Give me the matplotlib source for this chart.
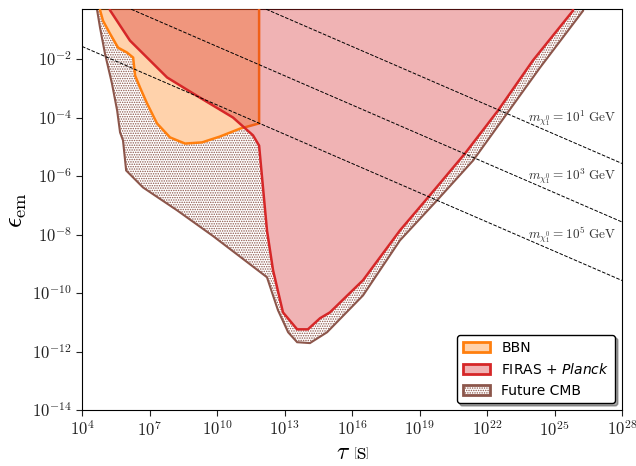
import numpy as np
import matplotlib
matplotlib.use('Agg')
import matplotlib.pyplot as plt
from matplotlib.ticker import FixedLocator, NullLocator, FuncFormatter

plt.rcParams['mathtext.fontset'] = 'cm'
plt.rcParams['hatch.linewidth'] = 0.7

# boundaries as (log10 tau [s], log10 eps_em)
bbn_logtau = [4.80, 4.93, 5.24, 5.60, 6.00, 6.27, 6.31, 6.36, 6.58, 6.89, 7.33,
              7.91, 8.58, 9.33, 10.13, 11.02, 11.87]
bbn_logeps = [-0.33, -0.69, -1.13, -1.61, -1.78, -1.95, -2.23, -2.57, -2.98, -3.52, -4.20,
              -4.68, -4.89, -4.85, -4.65, -4.38, -4.20]

firas_logtau = [5.24, 6.13, 7.78, 9.24, 10.71, 11.60, 11.87, 12.22, 12.49, 12.93, 13.56,
                14.04, 14.58, 15.02, 16.49, 18.13, 19.38, 21.02, 22.49, 24.04, 25.82]
firas_logeps = [-0.33, -1.37, -2.63, -3.32, -4.00, -4.61, -4.96, -7.86, -9.22, -10.66, -11.24,
                -11.24, -10.86, -10.66, -9.56, -7.86, -6.73, -5.23, -3.76, -2.05, -0.35]

cmb_logtau = [4.67, 4.80, 5.02, 5.33, 5.56, 5.69, 5.82, 5.96, 6.71, 8.22, 9.82, 12.22,
              12.44, 12.71, 13.16, 13.56, 14.13, 14.89, 16.49, 18.13, 19.78, 21.38,
              22.89, 24.36, 26.27]
cmb_logeps = [-0.33, -0.93, -1.82, -2.84, -3.76, -4.51, -4.78, -5.81, -6.39, -7.17, -8.05, -9.46,
              -9.97, -10.59, -11.34, -11.68, -11.71, -11.34, -10.08, -8.20, -6.83, -5.47,
              -3.86, -2.29, -0.35]

# neutralino mass lines: log10 eps at tau = 1e28 s, slope -1/3 in log-log
mass_exp = [1, 3, 5]
line_logeps_1e28 = [-5.57, -7.57, -9.57]
label_logeps = [-4.0, -6.0, -8.0]


def closed(logtau, logeps, top=1.0):
    x = [logtau[0]] + list(logtau) + [logtau[-1]]
    y = [top] + list(logeps) + [top]
    return 10.0 ** np.array(x), 10.0 ** np.array(y)


fig = plt.figure(figsize=(6.36, 4.66), dpi=100)
ax = fig.add_axes([0.129, 0.120, 0.849, 0.860])

cx, cy = closed(cmb_logtau, cmb_logeps)
ax.fill(cx, cy, facecolor='white', edgecolor='tab:brown', hatch='.......',
        linewidth=1.5, zorder=1, label='Future CMB')

bx, by = closed(bbn_logtau, bbn_logeps)
fx, fy = closed(firas_logtau, firas_logeps)
ax.fill(bx, by, facecolor='white', edgecolor='none', zorder=2)
ax.fill(fx, fy, facecolor='white', edgecolor='none', zorder=2)

ax.fill(bx, by, facecolor=(1.0, 0.498, 0.055, 0.35), edgecolor='tab:orange',
        linewidth=1.8, zorder=3, label='BBN')
ax.fill(fx, fy, facecolor=(0.839, 0.153, 0.157, 0.35), edgecolor='tab:red',
        linewidth=1.8, zorder=4, label='FIRAS + $\\it{Planck}$')

t = np.array([4.0, 28.0])
for m, c, ly in zip(mass_exp, line_logeps_1e28, label_logeps):
    ax.plot(10.0 ** t, 10.0 ** (c - (t - 28.0) / 3.0), 'k--', lw=0.7, zorder=5)
    ax.text(10 ** 23.8, 10 ** ly, r'$m_{\chi_1^0} = 10^{%d}\ \mathrm{GeV}$' % m,
            fontsize=9.5, color='#333333', va='center', ha='left', zorder=6)

ax.set_xscale('log')
ax.set_yscale('log')
ax.set_xlim(1e4, 1e28)
ax.set_ylim(1e-14, 0.5)
ax.xaxis.set_major_locator(FixedLocator([10.0 ** k for k in range(4, 29, 3)]))
ax.yaxis.set_major_locator(FixedLocator([10.0 ** k for k in range(-14, -1, 2)]))
ax.xaxis.set_minor_locator(NullLocator())
ax.yaxis.set_minor_locator(NullLocator())
pow10 = FuncFormatter(lambda v, pos: r'$10^{%d}$' % round(np.log10(v)))
ax.xaxis.set_major_formatter(pow10)
ax.yaxis.set_major_formatter(pow10)
ax.tick_params(labelsize=12, direction='out', length=4, colors='#222222')

ax.set_xlabel(r'$\tau\ \left[\mathrm{s}\right]$', fontsize=17, labelpad=0)
ax.set_ylabel(r'$\epsilon_{\rm em}$', fontsize=19, labelpad=2)

handles, labels = ax.get_legend_handles_labels()
order = [labels.index('BBN'), labels.index('FIRAS + $\\it{Planck}$'), labels.index('Future CMB')]
leg = ax.legend([handles[i] for i in order], [labels[i] for i in order], loc='lower right',
                fontsize=10, shadow=True, framealpha=1, edgecolor='black',
                borderaxespad=0.5)
leg.get_frame().set_linewidth(1.0)
leg.set_zorder(10)
for txt in leg.get_texts():
    txt.set_math_fontfamily('dejavusans')
for p in leg.get_patches():
    p.set_linewidth(2.0)

fig.savefig('out.png', dpi=100)
